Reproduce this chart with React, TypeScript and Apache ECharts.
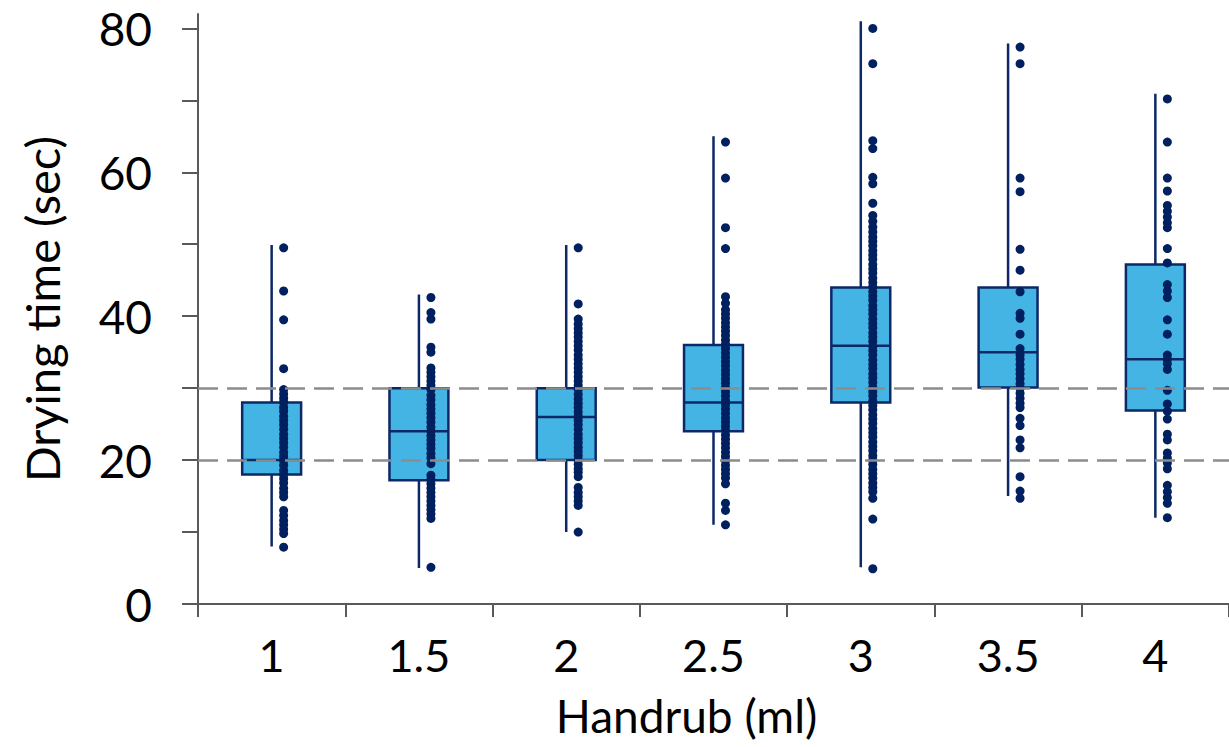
import React, { useEffect, useRef } from 'react';
import * as echarts from 'echarts';

const categories = ['1', '1.5', '2', '2.5', '3', '3.5', '4'];
const yTickValues = [0, 10, 20, 30, 40, 50, 60, 70, 80];
const yLabelValues = [0, 20, 40, 60, 80];
const thresholds = [20, 30];

const boxLow = [8, 5, 10, 11, 5.1, 15, 12];
const boxQ1 = [18, 17.2, 20, 24, 28, 30.1, 26.9];
const boxMedian = [20, 24, 26, 28, 35.9, 35, 34];
const boxQ3 = [28, 30, 30, 36, 44, 44, 47.2];
const boxHigh = [49.9, 43, 49.9, 65, 81, 77.9, 70.9];

const dots1 = [49.5, 43.5, 39.5, 32.7, 29.8, 29.2, 28.6, 28.0, 27.3, 26.8, 26.1, 25.5, 24.9, 24.3, 23.6, 23.0, 22.4, 21.8, 21.1, 20.5, 19.9, 19.3, 18.6, 18.0, 17.4, 16.8, 16.1, 15.5, 14.9, 13.0, 12.3, 11.6, 11.0, 10.4, 9.8, 7.9];
const dots15 = [42.6, 40.5, 39.6, 35.7, 35.0, 32.8, 32.2, 31.6, 31.0, 30.4, 29.8, 29.0, 28.4, 27.7, 27.1, 26.5, 25.9, 25.3, 24.6, 24.0, 23.4, 22.8, 22.2, 21.6, 20.9, 20.3, 19.5, 17.9, 17.3, 16.7, 16.1, 15.5, 14.9, 14.3, 13.7, 13.1, 12.5, 11.9, 5.1];
const dots2 = [49.5, 41.7, 39.6, 38.9, 38.3, 37.7, 37.1, 36.5, 35.9, 35.3, 34.6, 34.0, 33.4, 32.8, 32.2, 31.6, 31.0, 30.4, 29.8, 29.1, 28.5, 27.9, 27.3, 26.7, 26.1, 25.5, 24.9, 24.3, 23.6, 23.0, 22.4, 21.8, 21.2, 20.6, 20.0, 19.4, 18.8, 18.3, 17.7, 16.2, 15.5, 14.9, 14.3, 13.7, 10.0];
const dots25 = [64.2, 59.2, 52.3, 49.4, 42.7, 41.8, 40.9, 40.3, 39.7, 39.1, 38.5, 37.9, 37.3, 36.7, 36.1, 35.5, 34.9, 34.3, 33.7, 33.1, 32.5, 31.9, 31.3, 30.7, 30.1, 29.5, 28.9, 28.3, 27.7, 27.1, 26.5, 25.9, 25.3, 24.7, 24.1, 23.5, 22.9, 22.3, 21.7, 21.1, 20.5, 19.9, 19.3, 18.7, 18.1, 17.5, 16.7, 14.0, 13.0, 11.0];
const dots3 = [80.0, 75.1, 64.4, 63.3, 59.3, 58.4, 55.7, 54.0, 53.2, 52.4, 51.7, 51.0, 50.4, 49.8, 49.1, 48.5, 47.9, 47.2, 46.6, 46.0, 45.3, 44.7, 44.1, 43.4, 42.8, 42.2, 41.5, 40.9, 40.3, 39.6, 39.0, 38.4, 37.7, 37.1, 36.5, 35.8, 35.2, 34.6, 33.9, 33.3, 32.7, 32.0, 31.4, 30.8, 30.1, 29.5, 28.9, 28.2, 27.6, 27.0, 26.3, 25.7, 25.1, 24.4, 23.8, 23.2, 22.5, 21.9, 21.3, 20.6, 20.0, 19.4, 18.7, 18.1, 17.5, 16.8, 16.2, 15.6, 14.7, 11.8, 4.9];
const dots35 = [77.4, 75.1, 59.2, 57.3, 49.3, 46.4, 43.4, 40.4, 39.7, 37.5, 35.5, 34.6, 34.0, 33.3, 32.6, 32.0, 31.3, 30.6, 30.0, 29.3, 28.6, 27.9, 27.3, 25.8, 24.8, 22.8, 21.7, 17.7, 15.7, 14.7];
const dots4 = [70.2, 64.2, 59.2, 57.4, 55.4, 54.6, 53.8, 53.0, 52.3, 49.4, 47.4, 44.4, 43.5, 42.6, 39.5, 37.5, 34.6, 34.0, 33.4, 32.6, 29.7, 27.8, 26.8, 25.7, 23.6, 22.8, 21.0, 20.3, 19.6, 18.8, 16.5, 15.6, 14.8, 14.0, 12.0];

const dotsByCategory = [dots1, dots15, dots2, dots25, dots3, dots35, dots4];

const FONT = 'Lato';
const STROKE = '#0D2866';
const BOX_FILL = '#44B4E4';
const DOT = '#00205F';
const AXIS = '#595959';

export default function App() {
  const ref = useRef<HTMLDivElement>(null);

  useEffect(() => {
    if (!ref.current) return;
    const chart = echarts.init(ref.current, null, { renderer: 'svg' });

    const boxData = categories.map((_, i) => [i, boxLow[i], boxQ1[i], boxMedian[i], boxQ3[i], boxHigh[i]]);
    const scatterData: number[][] = [];
    dotsByCategory.forEach((arr, i) => arr.forEach((v) => scatterData.push([i, v])));

    const option: any = {
      animation: false,
      backgroundColor: '#ffffff',
      grid: { left: 198, right: -5, top: 14, bottom: 143 },
      xAxis: {
        type: 'category',
        data: categories,
        boundaryGap: true,
        name: 'Handrub (ml)',
        nameLocation: 'middle',
        nameGap: 88,
        nameTextStyle: { fontFamily: FONT, fontSize: 46, color: '#000', padding: [0, 54, 0, 0] },
        axisLine: { show: true, lineStyle: { color: AXIS, width: 2 } },
        axisTick: { show: true, alignWithLabel: false, length: 13, lineStyle: { color: AXIS, width: 2 } },
        axisLabel: { fontFamily: FONT, fontSize: 45, color: '#000', margin: 28 },
        splitLine: { show: false },
      },
      yAxis: {
        type: 'value',
        min: 0,
        max: 82,
        name: 'Drying time (sec)',
        nameLocation: 'middle',
        nameGap: 133,
        nameTextStyle: { fontFamily: FONT, fontSize: 47, color: '#000' },
        axisLine: { show: true, lineStyle: { color: AXIS, width: 2 } },
        axisTick: { show: true, length: 16, customValues: yTickValues, lineStyle: { color: AXIS, width: 2 } },
        axisLabel: { fontFamily: FONT, fontSize: 46, color: '#000', margin: 46, customValues: yLabelValues },
        splitLine: { show: false },
      },
      series: [
        {
          type: 'custom',
          z: 2,
          data: boxData,
          encode: { x: 0, y: [1, 2, 3, 4, 5] },
          renderItem: (params: any, api: any) => {
            const idx = api.value(0);
            const pLow = api.coord([idx, api.value(1)]);
            const pQ1 = api.coord([idx, api.value(2)]);
            const pMed = api.coord([idx, api.value(3)]);
            const pQ3 = api.coord([idx, api.value(4)]);
            const pHigh = api.coord([idx, api.value(5)]);
            const bw = api.size([1, 0])[0] * 0.4;
            const cx = pMed[0];
            return {
              type: 'group',
              children: [
                { type: 'line', shape: { x1: cx, y1: pHigh[1], x2: cx, y2: pLow[1] }, style: { stroke: STROKE, lineWidth: 2.5 } },
                { type: 'rect', shape: { x: cx - bw / 2, y: pQ3[1], width: bw, height: pQ1[1] - pQ3[1] }, style: { fill: BOX_FILL, stroke: STROKE, lineWidth: 2.5 } },
                { type: 'line', shape: { x1: cx - bw / 2, y1: pMed[1], x2: cx + bw / 2, y2: pMed[1] }, style: { stroke: STROKE, lineWidth: 2.5 } },
              ],
            };
          },
        },
        {
          type: 'line',
          z: 3,
          data: [],
          markLine: {
            silent: true,
            symbol: ['none', 'none'],
            label: { show: false },
            lineStyle: { color: '#8C8C8C', width: 2.5, type: [20, 9] },
            data: thresholds.map((t) => ({ yAxis: t })),
          },
        },
        {
          type: 'scatter',
          z: 4,
          data: scatterData,
          symbol: 'circle',
          symbolSize: 9,
          symbolOffset: [12, 0],
          itemStyle: { color: DOT, opacity: 1 },
        },
      ],
    };

    chart.setOption(option);
    return () => chart.dispose();
  }, []);

  return (
    <div
      ref={ref}
      style={{ position: 'fixed', left: 0, top: 0, width: 1229, height: 747, background: '#fff' }}
    />
  );
}
